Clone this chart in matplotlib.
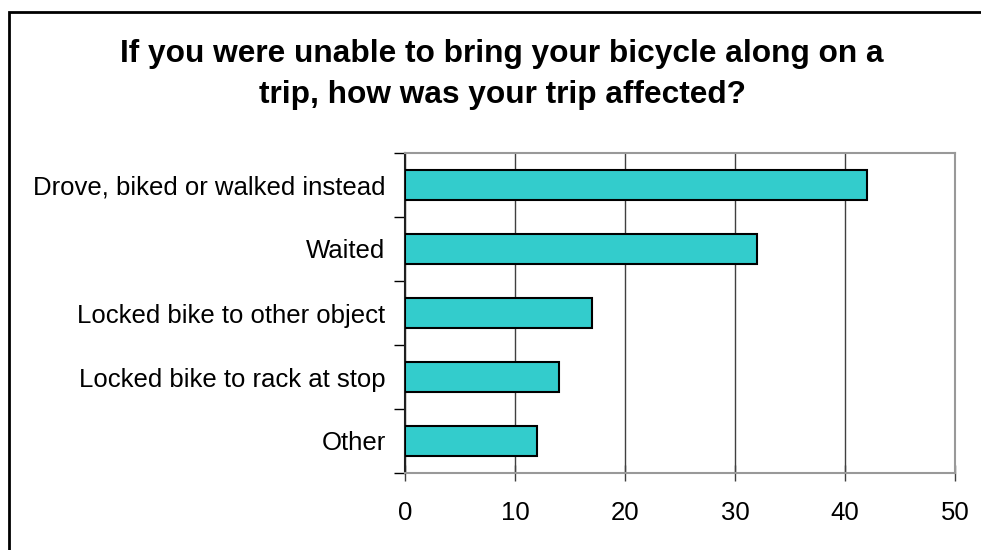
import matplotlib.pyplot as plt
from matplotlib.patches import Rectangle

categories = ["Drove, biked or walked instead", "Waited", "Locked bike to other object",
              "Locked bike to rack at stop", "Other"]
values = [42, 32, 17, 14, 12]
x_ticks = [0, 10, 20, 30, 40, 50]

title = "If you were unable to bring your bicycle along on a\ntrip, how was your trip affected?"

plt.rcParams['font.family'] = ['Liberation Sans', 'DejaVu Sans']

W, H = 981, 550
fig = plt.figure(figsize=(W / 100, H / 100), dpi=100)

# cadre noir du graphique (coupé à droite et en bas)
fig.patches.append(Rectangle((8.5 / W, -0.1), 1.2, 1 - 11.5 / H + 0.1, transform=fig.transFigure,
                             fill=False, edgecolor='black', linewidth=2))

ax = fig.add_axes([405 / W, 1 - 473 / H, 550 / W, 320 / H])

pos = list(range(len(categories)))
ax.barh(pos, values, height=0.47, color='#33CCCC', edgecolor='black', linewidth=1.5, zorder=3)
ax.set_ylim(len(categories) - 0.5, -0.5)
ax.set_xlim(0, 50)

ax.set_xticks(x_ticks)
ax.set_xticklabels([str(t) for t in x_ticks], fontsize=18.5)
ax.set_yticks(pos)
ax.set_yticklabels(categories, fontsize=18.5)
ax.tick_params(axis='y', length=0, pad=14)
ax.tick_params(axis='x', direction='inout', length=12, width=1, color='#404040', pad=14)

# ticks de séparation entre catégories
ax.set_yticks([i - 0.5 for i in range(len(categories) + 1)], minor=True)
ax.tick_params(axis='y', which='minor', length=8, width=1, color='black')

ax.grid(axis='x', color='#404040', linewidth=1, zorder=0)
for side in ['top', 'right', 'bottom']:
    ax.spines[side].set_color('#999999')
    ax.spines[side].set_linewidth(1.5)
ax.spines['left'].set_color('#202020')
ax.spines['left'].set_linewidth(1.5)

fig.text(502 / W, 1 - 74.5 / H, title, ha='center', va='center', fontsize=22.8,
         fontweight='bold', linespacing=1.5)

fig.savefig('out.png', dpi=100)
